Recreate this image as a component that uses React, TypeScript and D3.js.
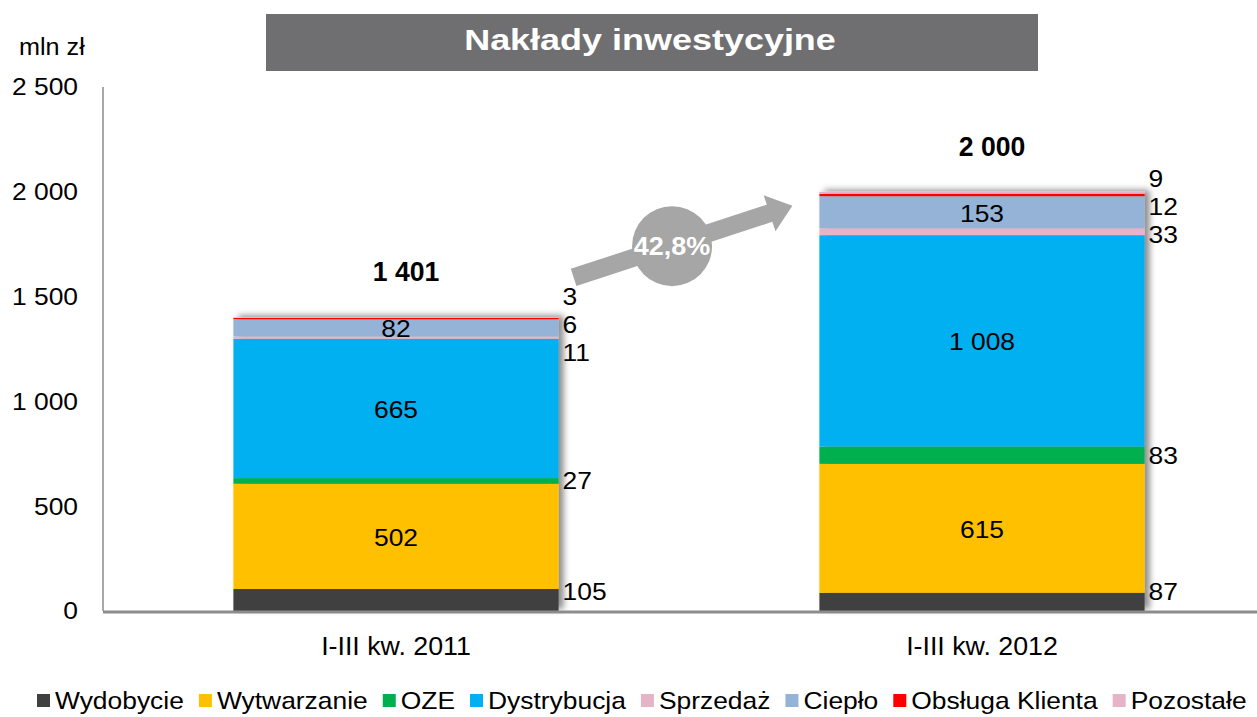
import React from "react";
import * as d3 from "d3";

const categories = ["I-III kw. 2011", "I-III kw. 2012"];
const seriesNames = ["Wydobycie", "Wytwarzanie", "OZE", "Dystrybucja", "Sprzedaż", "Ciepło", "Obsługa Klienta", "Pozostałe"];
const wydobycie = [105, 87];
const wytwarzanie = [502, 615];
const oze = [27, 83];
const dystrybucja = [665, 1008];
const sprzedaz = [11, 33];
const cieplo = [82, 153];
const obslugaKlienta = [6, 12];
const pozostale = [3, 9];
const seriesValues = [wydobycie, wytwarzanie, oze, dystrybucja, sprzedaz, cieplo, obslugaKlienta, pozostale];
const seriesColors = ["#404040", "#FFC000", "#00B050", "#00B0F0", "#E6B4C6", "#95B3D7", "#FF0000", "#E6B4C6"];
const insideSeries = ["Wytwarzanie", "Dystrybucja", "Ciepło"];
const yTicks = [0, 500, 1000, 1500, 2000, 2500];
const title = "Nakłady inwestycyjne";
const unitLabel = "mln zł";

const W = 1257;
const H = 717;
const FONT = "'Liberation Sans', Arial, Helvetica, sans-serif";

const locale = d3.formatLocale({ thousands: " ", grouping: [3], decimal: ",", currency: ["", ""] });
const fmt = locale.format(",");
const fmtPct = locale.format(".1%");

function Txt({ x, y, children, size = 24, sx = 1.1, anchor = "start", weight = "normal", fill = "#000" }: any) {
  return (
    <g transform={`translate(${x},${y}) scale(${sx},1)`}>
      <text fontFamily={FONT} fontSize={size} fontWeight={weight} textAnchor={anchor} fill={fill} dy="0.35em">
        {children}
      </text>
    </g>
  );
}

function measure(text: string, size: number, weight = "normal") {
  const c = document.createElement("canvas");
  const ctx = c.getContext("2d")!;
  ctx.font = `${weight} ${size}px ${FONT}`;
  return ctx.measureText(text).width;
}

export default function App() {
  const y = d3.scaleLinear().domain([0, 2500]).range([611, 87]);
  const x = d3.scaleBand<string>().domain(categories).range([103, 1275]).paddingInner(0.445).paddingOuter(0.2225);
  const bw = x.bandwidth();

  const rows = categories.map((c, i) => {
    const r: any = { cat: c };
    seriesNames.forEach((s, k) => (r[s] = seriesValues[k][i]));
    return r;
  });
  const stack = d3.stack<any>().keys(seriesNames)(rows);
  const totals = categories.map((_, i) => d3.sum(seriesValues, (v) => v[i]));

  // outside label layout per category
  const outsideLabels = categories.map((c, i) => {
    const items = stack
      .filter((s) => !insideSeries.includes(s.key))
      .map((s) => ({ key: s.key, value: seriesValues[s.index!][i], y: y((s[i][0] + s[i][1]) / 2) }));
    items.sort((a, b) => a.y - b.y);
    const gap = 28;
    for (let it = 0; it < 100; it++) {
      for (let j = 1; j < items.length; j++) {
        const d = items[j].y - items[j - 1].y;
        if (d < gap) {
          const p = (gap - d) / 2;
          items[j].y += p;
          items[j - 1].y -= p;
        }
      }
    }
    const maxY = y(0) - 19;
    for (let j = items.length - 1; j >= 0; j--) {
      const lim = j === items.length - 1 ? maxY : items[j + 1].y - gap;
      if (items[j].y > lim) items[j].y = lim;
    }
    return items;
  });

  // legend layout
  const legSx = 1.1;
  const legSize = 24;
  let lx = 37;
  const legend = seriesNames.map((s, k) => {
    const item = { name: s, color: seriesColors[k], x: lx };
    lx += 13 + 5 + measure(s, legSize) * legSx + 15;
    return item;
  });

  // arrow annotation
  const tail = [x(categories[0])! + bw + 15, y(totals[0]) - 40];
  const tip = [x(categories[1])! - 27, y(totals[1]) + 14];
  const dx = tip[0] - tail[0];
  const dy = tip[1] - tail[1];
  const L = Math.sqrt(dx * dx + dy * dy);
  const ang = (Math.atan2(dy, dx) * 180) / Math.PI;
  const cx = tail[0] + dx * 0.45;
  const cy = tail[1] + dy * 0.45 + 1;
  const change = totals[1] / totals[0] - 1;

  return (
    <svg width={W} height={H} style={{ position: "absolute", left: 0, top: 0, background: "#fff" }}>
      <defs>
        <filter id="sh" x="-10%" y="-10%" width="130%" height="125%">
          <feDropShadow dx="5" dy="-2" stdDeviation="3" floodColor="#000" floodOpacity="0.45" />
        </filter>
      </defs>

      {/* title */}
      <rect x={266} y={14} width={772} height={57} fill="#6F6F71" />
      <Txt x={650} y={40} size={29} sx={1.24} anchor="middle" weight="bold" fill="#fff">
        {title}
      </Txt>
      <Txt x={19} y={47} size={24} sx={1.05}>
        {unitLabel}
      </Txt>

      {/* y tick labels */}
      {yTicks.map((t) => (
        <Txt key={t} x={78} y={y(t)} size={24} sx={1.1} anchor="end">
          {fmt(t)}
        </Txt>
      ))}

      {/* bars */}
      {categories.map((c, i) => (
        <g key={c} filter="url(#sh)">
          {stack.map((s, k) => (
            <rect
              key={s.key}
              x={x(c)}
              y={y(s[i][1])}
              width={bw}
              height={Math.max(0, y(s[i][0]) - y(s[i][1]))}
              fill={seriesColors[k]}
            />
          ))}
        </g>
      ))}

      {/* axes */}
      <line x1={103} x2={103} y1={87} y2={611} stroke="#8C8C8C" strokeWidth={1.5} />
      <line x1={103} x2={W} y1={612} y2={612} stroke="#8C8C8C" strokeWidth={3} />

      {/* inside labels */}
      {categories.map((c, i) =>
        stack
          .filter((s) => insideSeries.includes(s.key))
          .map((s) => (
            <Txt key={c + s.key} x={x(c)! + bw / 2} y={y((s[i][0] + s[i][1]) / 2) + 1} size={24} sx={1.1} anchor="middle">
              {fmt(seriesValues[s.index!][i])}
            </Txt>
          ))
      )}

      {/* outside labels */}
      {categories.map((c, i) =>
        outsideLabels[i].map((it) => (
          <Txt key={c + it.key} x={x(c)! + bw + 4} y={it.y} size={24} sx={1.1}>
            {fmt(it.value)}
          </Txt>
        ))
      )}

      {/* totals */}
      {categories.map((c, i) => (
        <Txt key={"t" + c} x={x(c)! + bw / 2 + 10} y={y(totals[i]) - 46} size={28} sx={0.95} anchor="middle" weight="bold">
          {fmt(totals[i])}
        </Txt>
      ))}

      {/* category labels */}
      {categories.map((c) => (
        <Txt key={"c" + c} x={x(c)! + bw / 2} y={646} size={26} sx={1.03} anchor="middle">
          {c}
        </Txt>
      ))}

      {/* growth arrow */}
      <g transform={`translate(${tail[0]},${tail[1]}) rotate(${ang})`}>
        <rect x={0} y={-9} width={L - 20} height={18} fill="#A6A6A6" />
        <polygon points={`${L - 24},-19 ${L},0 ${L - 24},19`} fill="#A6A6A6" />
      </g>
      <circle cx={cx} cy={cy} r={40} fill="#A6A6A6" />
      <Txt x={cx} y={cy} size={25} sx={1.08} anchor="middle" weight="bold" fill="#fff">
        {fmtPct(change)}
      </Txt>

      {/* legend */}
      {legend.map((l) => (
        <g key={l.name}>
          <rect x={l.x} y={694} width={13} height={13} fill={l.color} />
          <Txt x={l.x + 18} y={701} size={legSize} sx={legSx}>
            {l.name}
          </Txt>
        </g>
      ))}
    </svg>
  );
}
